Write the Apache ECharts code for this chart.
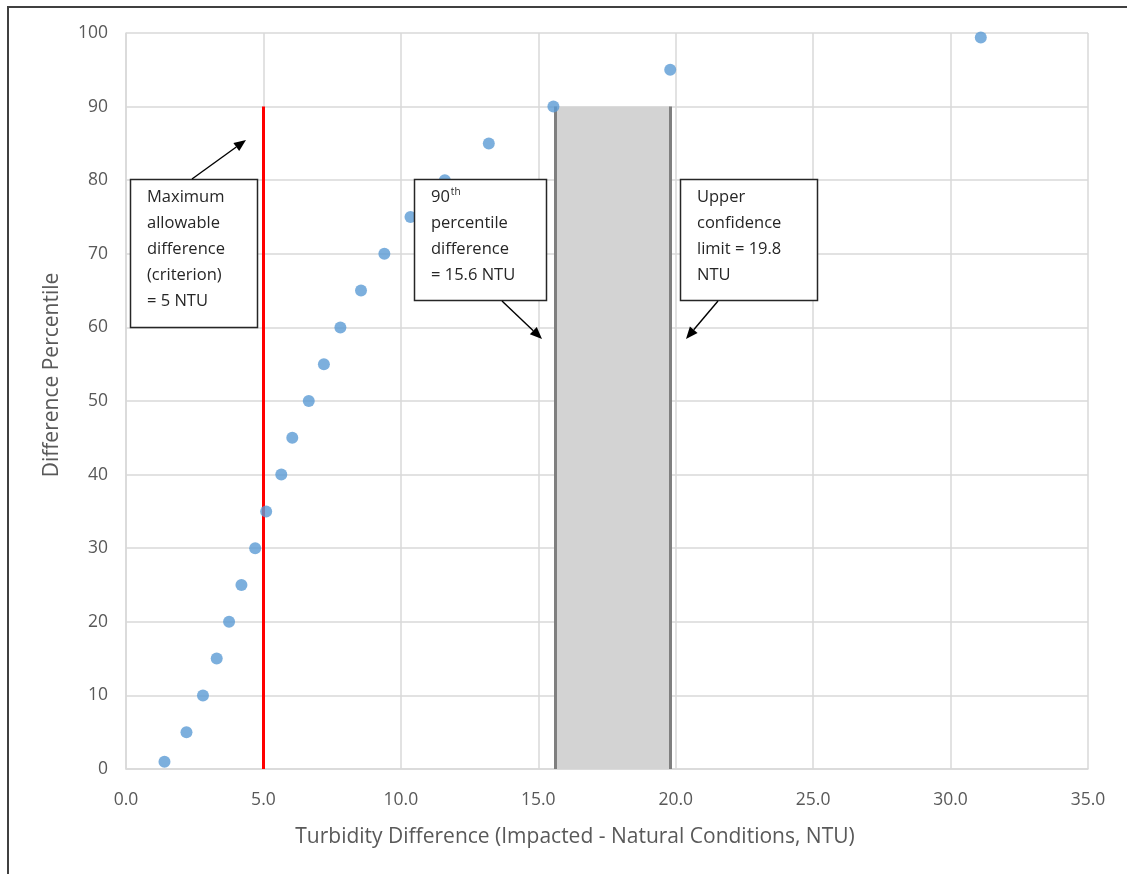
<!DOCTYPE html>
<html><head><meta charset="utf-8">
<script src="https://cdn.jsdelivr.net/npm/echarts@6/dist/echarts.min.js"></script>
<style>
html,body{margin:0;padding:0;background:#fff;}
#frame{position:absolute;left:7px;top:6px;width:1200px;height:1000px;border-left:2px solid #404040;border-top:2px solid #404040;}
#c{position:absolute;left:0;top:0;width:1127px;height:874px;}
</style></head>
<body><div id="frame"></div><div id="c"></div>
<script>
const turbidityDiff = [1.4, 2.2, 2.8, 3.3, 3.75, 4.2, 4.7, 5.1, 5.65, 6.05, 6.65, 7.2, 7.8, 8.55, 9.4, 10.35, 11.6, 13.2, 15.55, 19.8, 31.1];
const percentile   = [1, 5, 10, 15, 20, 25, 30, 35, 40, 45, 50, 55, 60, 65, 70, 75, 80, 85, 90, 95, 99.4];
const criterion = 5;
const pct90 = 15.6;
const ucl = 19.8;
const bandTop = 90;

const chart = echarts.init(document.getElementById('c'));
const font = 'Open Sans, Noto Sans, sans-serif';
function box(x, y, w, h, lines) {
  return [
    {type: 'rect', z: 100, zlevel: 0, shape: {x: x + 0.5, y: y + 0.5, width: w, height: h},
     style: {fill: '#ffffff', stroke: '#262626', lineWidth: 1.5}},
    {type: 'text', z: 101, x: x + 17, y: y + 5, style: {text: lines, fontFamily: font, fontSize: 16.5, fill: '#262626', lineHeight: 26,
      rich: {
        n: {fontFamily: font, fontSize: 16.5, fill: '#262626', lineHeight: 26},
        sup: {fontSize: 10, fontFamily: font, fill: '#262626', verticalAlign: 'top', lineHeight: 26, padding: [3, 0, 0, 1]}}}}
  ];
}
function arrow(x1, y1, x2, y2) {
  const ang = Math.atan2(y2 - y1, x2 - x1), L = 12, W = 5;
  const bx = x2 - L * Math.cos(ang), by = y2 - L * Math.sin(ang);
  const px = -Math.sin(ang) * W, py = Math.cos(ang) * W;
  return [
    {type: 'line', z: 100, shape: {x1, y1, x2: bx, y2: by}, style: {stroke: '#000', lineWidth: 1.4}},
    {type: 'polygon', z: 100, shape: {points: [[x2, y2], [bx + px, by + py], [bx - px, by - py]]}, style: {fill: '#000'}}
  ];
}
chart.setOption({
  animation: false,
  grid: {left: 126, right: 39, top: 33, bottom: 105, containLabel: false},
  xAxis: {
    type: 'value', min: 0, max: 35, interval: 5,
    name: 'Turbidity Difference (Impacted - Natural Conditions, NTU)',
    nameLocation: 'middle', nameGap: 58,
    nameTextStyle: {fontFamily: font, fontSize: 21, color: '#595959', padding: [0, 64, 0, 0]},
    axisLine: {show: true, lineStyle: {color: '#d9d9d9', width: 1.5}},
    axisTick: {show: false},
    axisLabel: {formatter: v => v.toFixed(1), fontFamily: font, fontSize: 17.5, color: '#595959', margin: 22},
    splitLine: {show: true, lineStyle: {color: '#d9d9d9', width: 1.5}}
  },
  yAxis: {
    type: 'value', min: 0, max: 100, interval: 10,
    name: 'Difference Percentile', nameLocation: 'middle', nameGap: 63, nameRotate: 90,
    nameTextStyle: {fontFamily: font, fontSize: 21, color: '#595959', padding: [0, 0, 0, 52]},
    axisLine: {show: true, lineStyle: {color: '#d9d9d9', width: 1.5}},
    axisTick: {show: false},
    axisLabel: {fontFamily: font, fontSize: 17.5, color: '#595959', margin: 18},
    splitLine: {show: true, lineStyle: {color: '#d9d9d9', width: 1.5}}
  },
  series: [
    {
      type: 'scatter', symbolSize: 12, z: 5,
      itemStyle: {color: '#5b9bd5'},
      data: turbidityDiff.map((x, i) => [x, percentile[i]])
    },
    {
      type: 'line', data: [], z: 3,
      markArea: {silent: true, itemStyle: {color: '#d3d3d3'},
        data: [[{coord: [pct90, 0]}, {coord: [ucl, bandTop]}]]},
      markLine: {silent: true, symbol: 'none', label: {show: false},
        data: [
          [{coord: [pct90, 0], lineStyle: {color: '#7f7f7f', width: 3, type: 'solid'}}, {coord: [pct90, bandTop]}],
          [{coord: [ucl, 0], lineStyle: {color: '#7f7f7f', width: 3, type: 'solid'}}, {coord: [ucl, bandTop]}],
          [{coord: [criterion, 0], lineStyle: {color: '#ff0000', width: 3, type: 'solid'}}, {coord: [criterion, bandTop]}]
        ]}
    }
  ],
  graphic: [
    ...box(130, 179, 127, 148, 'Maximum\nallowable\ndifference\n(criterion)\n= 5 NTU'),
    ...box(414, 179, 132, 121, '{n|90}{sup|th}\npercentile\ndifference\n= 15.6 NTU'),
    ...box(680, 179, 137, 121, 'Upper\nconfidence\nlimit = 19.8\nNTU'),
    ...arrow(192, 179, 246, 140),
    ...arrow(502, 301, 542, 339),
    ...arrow(718, 301, 686, 339)
  ]
});
</script></body></html>
